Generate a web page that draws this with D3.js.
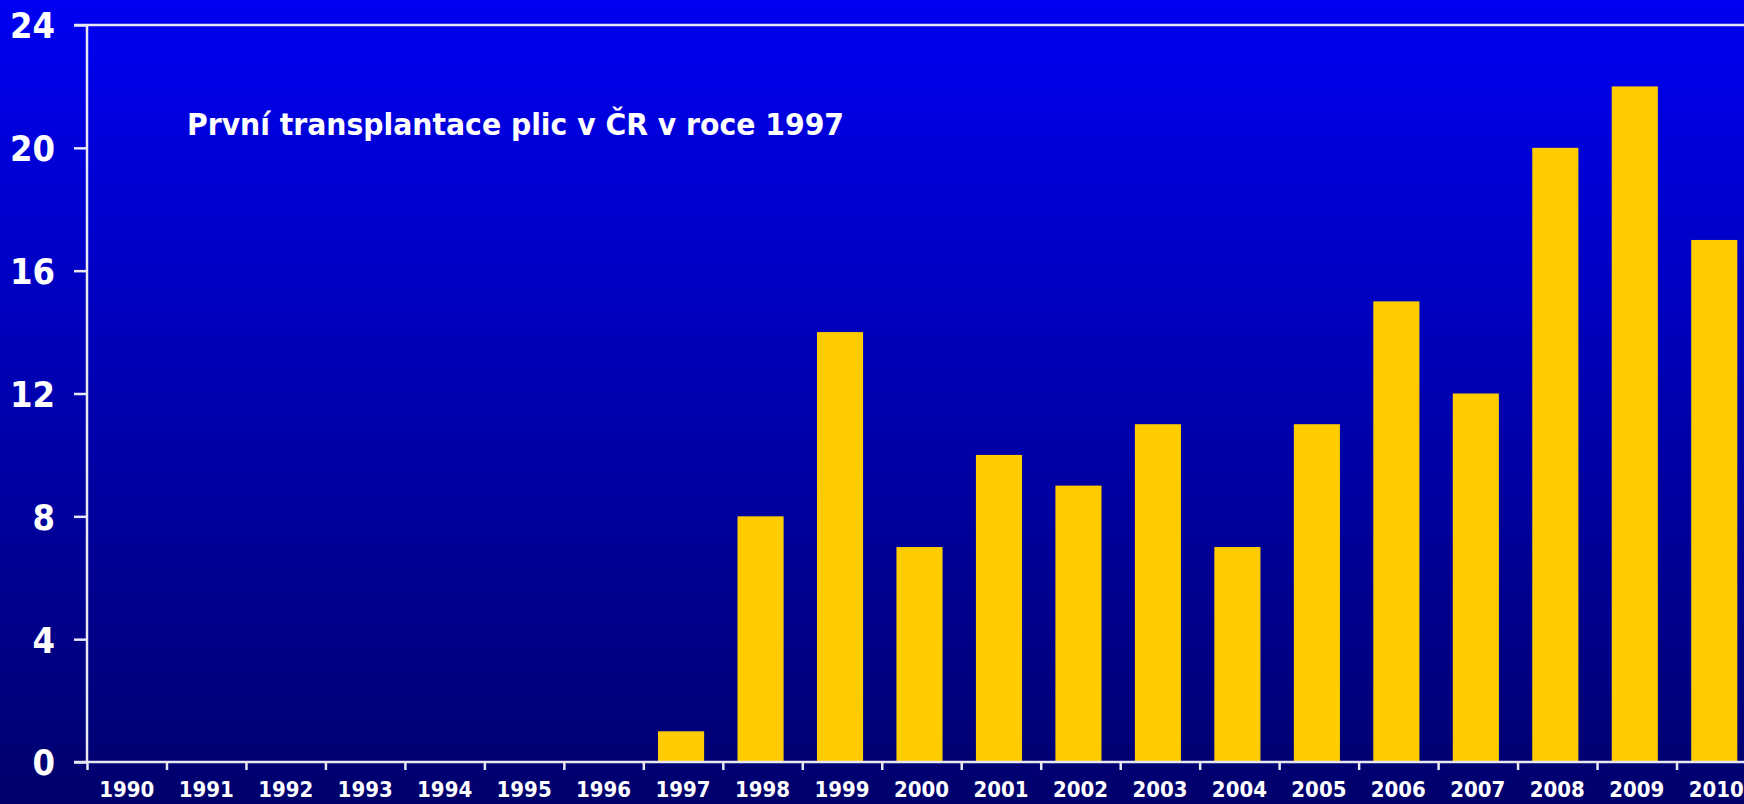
<!DOCTYPE html>
<html>
<head>
<meta charset="utf-8">
<script src="https://cdn.jsdelivr.net/npm/d3@7"></script>
<style>
  body { margin: 0; background: #000070; overflow: hidden; }
  svg { display: block; }
  .axis text { font-family: "DejaVu Sans Condensed", "DejaVu Sans", sans-serif; font-weight: bold; fill: #fff; }
  .axis path, .axis line { stroke: #e8e8f4; stroke-width: 2.5; }
</style>
</head>
<body>
<div id="main"></div>
<script>
var years = ["1990","1991","1992","1993","1994","1995","1996","1997","1998","1999",
             "2000","2001","2002","2003","2004","2005","2006","2007","2008","2009","2010"];
var transplants = [0,0,0,0,0,0,0,1,8,14,7,10,9,11,7,11,15,12,20,22,17];
var yTicks = [0,4,8,12,16,20,24];
var title = "První transplantace plic v ČR v roce 1997";

var W = 1744, H = 804;
var margin = {top: 25, left: 87, bottom: 42};
var plotRight = 1756; // the last band runs off the right edge, as in the original

var svg = d3.select("#main").append("svg")
    .attr("width", W)
    .attr("height", H);

// background gradient, bright blue to navy
var grad = svg.append("defs").append("linearGradient")
    .attr("id", "bg")
    .attr("x1", 0).attr("y1", 0).attr("x2", 0).attr("y2", 1);
grad.append("stop").attr("offset", "0%").attr("stop-color", "#0000f2");
grad.append("stop").attr("offset", "100%").attr("stop-color", "#00006c");
svg.append("rect").attr("width", W).attr("height", H).attr("fill", "url(#bg)");

var yScale = d3.scaleLinear()
    .domain([0, 24])
    .range([H - margin.bottom, margin.top]);

var xScale = d3.scaleBand()
    .domain(years)
    .range([margin.left, plotRight])
    .paddingInner(0.42)
    .paddingOuter(0.21);

// positions of the band edges, for the tick marks
var edgeScale = d3.scaleLinear()
    .domain([0, years.length])
    .range([margin.left, plotRight]);

// bars
svg.selectAll(".bar")
    .data(years)
    .enter().append("rect")
    .attr("class", "bar")
    .attr("x", function(d) { return xScale(d) - 2; })
    .attr("width", xScale.bandwidth())
    .attr("y", function(d, i) { return yScale(transplants[i]); })
    .attr("height", function(d, i) { return yScale(0) - yScale(transplants[i]); })
    .style("fill", "#ffcc00");

// top frame line
svg.append("line")
    .attr("x1", 74).attr("x2", W)
    .attr("y1", yScale(24)).attr("y2", yScale(24))
    .style("stroke", "#e8e8f4")
    .style("stroke-width", 2.5);

// y axis
var yAxis = svg.append("g")
    .attr("class", "axis")
    .attr("transform", "translate(" + margin.left + ",0)")
    .call(d3.axisLeft(yScale).tickValues(yTicks).tickSize(13).tickPadding(19));
yAxis.select(".domain").attr("d", "M0," + yScale(0) + "V" + yScale(24));
yAxis.selectAll("text").style("font-size", "36px").attr("dy", "0.36em");

// x axis: tick marks at band edges
var xEdges = svg.append("g")
    .attr("class", "axis")
    .attr("transform", "translate(0," + yScale(0) + ")")
    .call(d3.axisBottom(edgeScale).ticks(years.length).tickSize(8).tickFormat(""));
xEdges.select(".domain").attr("d", "M" + (margin.left - 13) + ",0H" + W);

// x axis: year labels (kept just inside the bottom edge)
var xLabels = svg.append("g")
    .attr("class", "axis")
    .attr("transform", "translate(0," + yScale(0) + ")")
    .call(d3.axisBottom(xScale).tickSize(0).tickPadding(19));
xLabels.select(".domain").remove();
xLabels.selectAll("text").style("font-size", "22px");

// annotation
svg.append("text")
    .attr("x", 187)
    .attr("y", 135)
    .attr("textLength", 657)
    .attr("lengthAdjust", "spacingAndGlyphs")
    .style("font-family", "'DejaVu Sans Condensed', 'DejaVu Sans', sans-serif")
    .style("font-weight", "bold")
    .style("font-size", "31px")
    .style("fill", "#fff")
    .text(title);
</script>
</body>
</html>
